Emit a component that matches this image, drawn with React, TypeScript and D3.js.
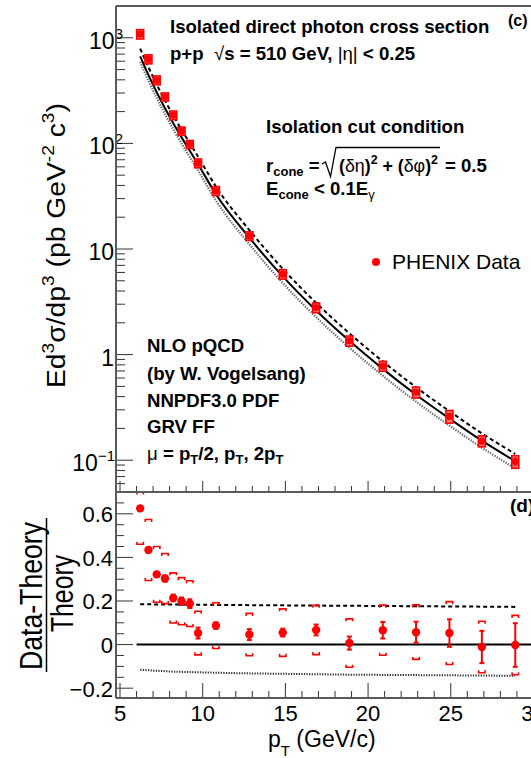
import React from "react";
import * as d3 from "d3";

// ---- Data ----
const pT = [6.22, 6.72, 7.22, 7.72, 8.22, 8.72, 9.22, 9.72, 10.8, 12.82, 14.84, 16.86, 18.87, 20.89, 22.9, 24.92, 26.88, 28.9];
const xsecData = [1084, 628, 397, 276, 185, 131, 98, 65, 35.6, 13.3, 5.78, 2.79, 1.35, 0.78, 0.44, 0.26, 0.152, 0.097];
const theoryNLO = [667, 445, 305, 215, 155, 114, 85.1, 63.5, 33.0, 12.8, 5.5, 2.62, 1.35, 0.733, 0.417, 0.248, 0.153, 0.0977];
const ratio = [0.625, 0.434, 0.322, 0.303, 0.214, 0.199, 0.188, 0.053, 0.087, 0.046, 0.055, 0.067, 0.007, 0.066, 0.057, 0.053, -0.011, -0.002];
const ratioStat = [0.008, 0.01, 0.012, 0.014, 0.015, 0.017, 0.02, 0.025, 0.015, 0.025, 0.018, 0.025, 0.03, 0.038, 0.048, 0.063, 0.074, 0.1];
const ratioSys = [0.165, 0.14, 0.128, 0.115, 0.115, 0.108, 0.105, 0.1, 0.105, 0.097, 0.109, 0.113, 0.111, 0.115, 0.125, 0.144, 0.118, 0.136];
const ratioHalfMu = [0.185, 0.185, 0.184, 0.184, 0.184, 0.183, 0.183, 0.183, 0.182, 0.181, 0.18, 0.179, 0.178, 0.177, 0.176, 0.175, 0.174, 0.173];
const ratioTwoMu = [-0.115, -0.118, -0.12, -0.122, -0.124, -0.125, -0.126, -0.127, -0.129, -0.132, -0.134, -0.136, -0.138, -0.139, -0.14, -0.141, -0.142, -0.143];
const xMajorTicks = [5, 10, 15, 20, 25, 30];
const xTickLabels = ["5", "10", "15", "20", "25", "30"];
const logMajor = [0.1, 1, 10, 100, 1000];
const logLabels = [["10", "\u22121"], ["1", ""], ["10", ""], ["10", "2"], ["10", "3"]];
const ratioMajor = [-0.2, 0, 0.2, 0.4, 0.6];
const ratioLabels = ["\u22120.2", "0", "0.2", "0.4", "0.6"];

const W = 531, H = 758;
const L = 116, R = 550, T1 = 6, B1 = 492, B2 = 698;
const FONT = "'Liberation Sans', Arial, Helvetica, sans-serif";
const RED = "#ff0000";
const FRAME = "#5a5a5a";

export default function App() {
  const x = d3.scaleLinear().domain([4.758, 31]).range([L, R]);
  const yTop = d3.scaleLog().domain([0.05, 2000]).range([B1, T1]);
  const yRat = d3.scaleLinear().domain([-0.245, 0.7]).range([B2, B1]);

  const xMinor = d3.range(5, 31.01, 1).filter((v) => !xMajorTicks.includes(v));
  const logMinor = yTop.ticks(20).filter((v) => !logMajor.some((m) => Math.abs(m - v) < 1e-9));
  const ratMinor = d3.range(-0.2, 0.7, 0.05).map((v) => +v.toFixed(2)).filter((v) => !ratioMajor.some((m) => Math.abs(m - v) < 1e-6));

  const lineTop = d3.line<number>().x((_, i) => x(pT[i])).y((v) => yTop(v)).curve(d3.curveMonotoneX);
  const lineRat = d3.line<number>().x((_, i) => x(pT[i])).y((v) => yRat(v)).curve(d3.curveMonotoneX);

  const theoHi = theoryNLO.map((v, i) => v * (1 + ratioHalfMu[i]));
  const theoLo = theoryNLO.map((v, i) => v * (1 + ratioTwoMu[i]));

  const bracket = (cx: number, cy: number, dir: number, w: number, leg: number) =>
    `M${cx - w},${cy + dir * leg}V${cy}H${cx + w}V${cy + dir * leg}`;

  const clampR = (v: number) => Math.max(-0.245, Math.min(0.7, v));

  return (
    <svg width={W} height={H} style={{ position: "absolute", left: 0, top: 0, background: "#fff" }} fontFamily={FONT}>
      <defs>
        <clipPath id="clipTop"><rect x={L} y={T1} width={R - L} height={B1 - T1} /></clipPath>
        <clipPath id="clipRat"><rect x={L} y={B1} width={R - L} height={B2 - B1} /></clipPath>
      </defs>
      <rect x={0} y={0} width={W} height={H} fill="#fff" />

      {/* ---------- TOP PANEL ---------- */}
      <g clipPath="url(#clipTop)">
        <path d={lineTop(theoLo) || ""} fill="none" stroke="#666" strokeWidth={2.2} strokeDasharray="1.3 1.3" />
        <path d={lineTop(theoHi) || ""} fill="none" stroke="#000" strokeWidth={2} strokeDasharray="4 3" />
        <path d={lineTop(theoryNLO) || ""} fill="none" stroke="#000" strokeWidth={2} />
        {pT.map((p, i) => {
          const cx = x(p);
          const d = xsecData[i];
          const sf = ratioSys[i] / (1 + ratio[i]);
          const st = ratioStat[i] / (1 + ratio[i]);
          const yu = yTop(d * (1 + sf));
          const yd = yTop(d * (1 - sf));
          return (
            <g key={i}>
              <rect x={cx - 3.5} y={yu} width={7} height={yd - yu} fill="#ff8080" stroke={RED} strokeWidth={1.6} />
              <line x1={cx} x2={cx} y1={yTop(d * (1 + st))} y2={yTop(d * (1 - st))} stroke={RED} strokeWidth={2} />
              <circle cx={cx} cy={yTop(d)} r={3.6} fill={RED} />
            </g>
          );
        })}
      </g>

      {/* top panel ticks */}
      {logMajor.map((v) => (
        <line key={"lm" + v} x1={L} x2={L + 17} y1={yTop(v)} y2={yTop(v)} stroke="#333" strokeWidth={1} />
      ))}
      {logMinor.map((v) => (
        <line key={"ln" + v} x1={L} x2={L + 9} y1={yTop(v)} y2={yTop(v)} stroke="#333" strokeWidth={1} />
      ))}
      {xMajorTicks.map((v) => (
        <line key={"txm" + v} x1={x(v)} x2={x(v)} y1={B1} y2={B1 - 11} stroke="#333" strokeWidth={1} />
      ))}
      {xMinor.map((v) => (
        <line key={"txn" + v} x1={x(v)} x2={x(v)} y1={B1} y2={B1 - 6} stroke="#333" strokeWidth={1} />
      ))}

      {/* top y labels */}
      {logMajor.map((v, i) => {
        const [base, sup] = logLabels[i];
        const endX = sup === "" ? 114 : sup.length > 1 ? 115 : 123;
        return (
          <text key={"yl" + v} x={endX} y={yTop(v) + 11} fontSize={23} textAnchor="end" fill="#000">
            {base}
            {sup !== "" && <tspan fontSize={15} dy={-10}>{sup}</tspan>}
          </text>
        );
      })}

      {/* top y title */}
      <text transform="translate(65,245.5) rotate(-90)" fontSize={25} textAnchor="middle" fill="#000"
        textLength={285} lengthAdjust="spacingAndGlyphs">
        Ed<tspan fontSize={17} dy={-11}>3</tspan>
        <tspan dy={11}>σ/dp</tspan><tspan fontSize={17} dy={-11}>3</tspan>
        <tspan dy={11}> (pb GeV</tspan><tspan fontSize={17} dy={-11}>-2</tspan>
        <tspan dy={11}> c</tspan><tspan fontSize={17} dy={-11}>3</tspan>
        <tspan dy={11}>)</tspan>
      </text>

      {/* top texts */}
      <g fontWeight="bold" fontSize={18.6} fill="#000">
        <text x={170} y={33}>Isolated direct photon cross section</text>
        <text x={170} y={60} xmlSpace="preserve">
          {"p+p\u00A0\u00A0"}<tspan fontWeight="normal">√</tspan>s = 510 GeV, <tspan fontWeight="normal">|η|</tspan> &lt; 0.25
        </text>
        <text x={266} y={133}>Isolation cut condition</text>
        <text x={266} y={172}>
          r<tspan fontSize={13} dy={4}>cone</tspan><tspan dy={-4}> =</tspan>
        </text>
        <path d="M322,164 L325.5,162 L330.5,176.5 L336,147.5 H440" fill="none" stroke="#000" strokeWidth={1.3} />
        <text x={339} y={172} textLength={99} lengthAdjust="spacingAndGlyphs">
          (<tspan fontWeight="normal">δη</tspan>)<tspan fontSize={13} dy={-8}>2</tspan>
          <tspan dy={8}> + (</tspan><tspan fontWeight="normal">δφ</tspan>)<tspan fontSize={13} dy={-8}>2</tspan>
        </text>
        <text x={445} y={172}>= 0.5</text>
        <text x={266} y={195}>
          E<tspan fontSize={13} dy={4}>cone</tspan><tspan dy={-4}> &lt; 0.1E</tspan>
          <tspan fontSize={13} dy={4} fontWeight="normal">γ</tspan>
        </text>

        <text x={147} y={352}>NLO pQCD</text>
        <text x={147} y={380}>(by W. Vogelsang)</text>
        <text x={147} y={407}>NNPDF3.0 PDF</text>
        <text x={147} y={433}>GRV FF</text>
        <text x={147} y={460}>
          <tspan fontWeight="normal">μ</tspan> = p<tspan fontSize={13} dy={4}>T</tspan>
          <tspan dy={-4}>/2, p</tspan><tspan fontSize={13} dy={4}>T</tspan>
          <tspan dy={-4}>, 2p</tspan><tspan fontSize={13} dy={4}>T</tspan>
        </text>
        <text x={508} y={26} fontSize={16}>(c)</text>
      </g>

      {/* legend */}
      <circle cx={376} cy={262} r={4} fill={RED} />
      <text x={392} y={269} fontSize={21} fill="#000">PHENIX Data</text>

      {/* ---------- RATIO PANEL ---------- */}
      <g clipPath="url(#clipRat)">
        <line x1={x(6.0)} x2={R} y1={yRat(0)} y2={yRat(0)} stroke="#000" strokeWidth={2} />
        <path d={lineRat(ratioHalfMu) || ""} fill="none" stroke="#000" strokeWidth={2} strokeDasharray="4 3" />
        <path d={lineRat(ratioTwoMu) || ""} fill="none" stroke="#333" strokeWidth={2} strokeDasharray="1.3 1.3" />
        {pT.map((p, i) => {
          const cx = x(p);
          const r = ratio[i];
          const s = ratioStat[i];
          const up = yRat(clampR(r + ratioSys[i]));
          const dn = yRat(clampR(r - ratioSys[i]));
          return (
            <g key={"r" + i}>
              <path d={bracket(cx, up, 1, 3.2, 2.5)} fill="none" stroke={RED} strokeWidth={1.6} />
              <path d={bracket(cx, dn, -1, 3.2, 2.5)} fill="none" stroke={RED} strokeWidth={1.6} />
              <line x1={cx} x2={cx} y1={yRat(r + s)} y2={yRat(r - s)} stroke={RED} strokeWidth={2} />
              <line x1={cx - 2.5} x2={cx + 2.5} y1={yRat(r + s)} y2={yRat(r + s)} stroke={RED} strokeWidth={2} />
              <line x1={cx - 2.5} x2={cx + 2.5} y1={yRat(r - s)} y2={yRat(r - s)} stroke={RED} strokeWidth={2} />
              <circle cx={cx} cy={yRat(r)} r={4.2} fill={RED} />
            </g>
          );
        })}
      </g>

      {/* ratio ticks */}
      {ratioMajor.map((v) => (
        <line key={"rm" + v} x1={L} x2={L + 17} y1={yRat(v)} y2={yRat(v)} stroke="#333" strokeWidth={1} />
      ))}
      {ratMinor.map((v) => (
        <line key={"rn" + v} x1={L} x2={L + 8} y1={yRat(v)} y2={yRat(v)} stroke="#333" strokeWidth={1} />
      ))}
      {xMajorTicks.map((v) => (
        <line key={"bxm" + v} x1={x(v)} x2={x(v)} y1={B2} y2={B2 - 15} stroke="#333" strokeWidth={1} />
      ))}
      {xMinor.map((v) => (
        <line key={"bxn" + v} x1={x(v)} x2={x(v)} y1={B2} y2={B2 - 7} stroke="#333" strokeWidth={1} />
      ))}

      {ratioMajor.map((v, i) => (
        <text key={"rl" + v} x={113} y={yRat(v) + 8.5} fontSize={22} textAnchor="end" fill="#000">{ratioLabels[i]}</text>
      ))}
      {xMajorTicks.map((v, i) => (
        <text key={"xl" + v} x={x(v)} y={721} fontSize={22} textAnchor="middle" fill="#000">{xTickLabels[i]}</text>
      ))}

      {/* ratio title */}
      <g fill="#000" fontSize={31}>
        <text transform="translate(42,596) rotate(-90)" textAnchor="middle" textLength={148} lengthAdjust="spacingAndGlyphs">Data-Theory</text>
        <text transform="translate(73,593.5) rotate(-90)" textAnchor="middle" textLength={77} lengthAdjust="spacingAndGlyphs">Theory</text>
      </g>
      <line x1={46.5} x2={46.5} y1={518} y2={672} stroke="#000" strokeWidth={1.5} />

      <text x={510} y={512} fontSize={19} fontWeight="bold" fill="#000">(d)</text>

      {/* x title */}
      <text x={268} y={747} fontSize={23} fill="#000">
        p<tspan fontSize={15} dy={9}>T</tspan><tspan dy={-9}> (GeV/c)</tspan>
      </text>

      {/* frames */}
      <g stroke={FRAME} strokeWidth={2} fill="none">
        <line x1={L} x2={W} y1={T1} y2={T1} />
        <line x1={L} x2={L} y1={T1} y2={B2} />
        <line x1={L} x2={W} y1={B1} y2={B1} />
        <line x1={L} x2={W} y1={B2} y2={B2} />
      </g>
    </svg>
  );
}
